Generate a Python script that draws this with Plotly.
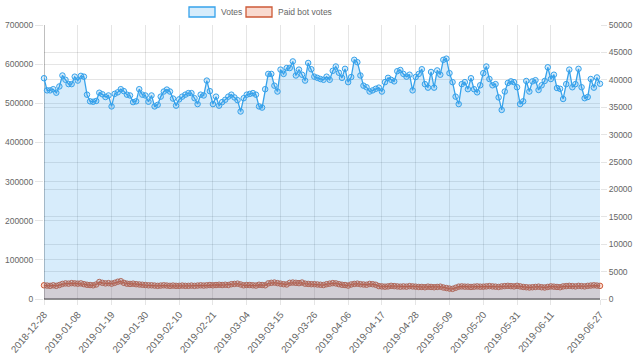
import plotly.graph_objects as go
from datetime import date, timedelta

start_date = date(2018, 12, 28)

votes = [
    564000, 533000, 533000, 536000, 527000, 543000, 571000, 560000, 549000, 549000,
    568000, 558000, 570000, 568000, 522000, 505000, 504000, 506000, 527000, 523000,
    516000, 520000, 492000, 524000, 528000, 536000, 531000, 522000, 520000, 503000,
    505000, 536000, 522000, 520000, 504000, 520000, 492000, 496000, 517000, 530000,
    535000, 530000, 512000, 494000, 510000, 517000, 522000, 526000, 526000, 513000,
    498000, 522000, 520000, 558000, 531000, 498000, 517000, 494000, 503000, 509000,
    517000, 522000, 515000, 508000, 479000, 513000, 522000, 524000, 526000, 522000,
    492000, 489000, 536000, 575000, 575000, 545000, 530000, 586000, 575000, 590000,
    590000, 607000, 571000, 586000, 573000, 558000, 603000, 587000, 568000, 565000,
    562000, 560000, 568000, 560000, 583000, 594000, 578000, 565000, 588000, 554000,
    567000, 611000, 605000, 571000, 545000, 541000, 530000, 533000, 537000, 540000,
    530000, 554000, 565000, 560000, 556000, 582000, 585000, 575000, 568000, 573000,
    533000, 567000, 575000, 587000, 549000, 540000, 580000, 540000, 584000, 573000,
    611000, 614000, 577000, 554000, 517000, 498000, 549000, 554000, 536000, 564000,
    536000, 528000, 546000, 577000, 594000, 562000, 546000, 549000, 515000, 483000,
    530000, 552000, 556000, 554000, 541000, 498000, 505000, 557000, 530000, 556000,
    559000, 534000, 546000, 557000, 592000, 562000, 573000, 539000, 537000, 511000,
    549000, 586000, 541000, 549000, 588000, 541000, 513000, 516000, 562000, 540000,
    566000, 550000,
]

paid_bot_votes = [
    2500, 2450, 2400, 2500, 2400, 2550,
    2750, 2850, 2800, 2900, 2850, 2800, 2850,
    2700, 2600, 2550, 2500, 2650, 3100,
    2950, 2850, 2900, 2800, 2950,
    3150, 3250,
    2950, 2800, 2750, 2800, 2700, 2650,
    2600, 2550, 2500, 2500, 2450, 2400, 2450, 2500, 2450, 2400, 2450, 2400, 2400,
    2450, 2400, 2400, 2450, 2400, 2450, 2500, 2450, 2500, 2550, 2500, 2550, 2600,
    2550, 2600, 2550,
    2700, 2750, 2800, 2650, 2500, 2550,
    2550, 2500, 2450, 2600, 2550, 2500,
    2850, 2950, 3000, 2900, 2800,
    2700, 2650,
    2950, 3000, 2950, 2900, 3000,
    2800, 2750, 2700, 2700, 2650,
    2600, 2550, 2700, 2800, 2900, 2850, 2700, 2600, 2550, 2450,
    2650, 2750, 2800, 2700, 2650, 2600, 2750, 2700, 2600,
    2350, 2300, 2250, 2300, 2400, 2350, 2300, 2250, 2300, 2250, 2350, 2300, 2250, 2200,
    2200, 2150, 2250, 2200, 2150, 2200, 2250, 2100, 2000, 1900, 1850, 2050,
    2250, 2300, 2250, 2250, 2200, 2250, 2300, 2250, 2250, 2300, 2350, 2300, 2250, 2200, 2300, 2350,
    2400, 2350, 2300, 2400, 2300,
    2200, 2150, 2100, 2150, 2200, 2250, 2150, 2100, 2200, 2300, 2250,
    2200, 2150, 2300, 2350, 2400, 2350, 2300, 2400, 2350, 2300, 2400, 2450, 2500, 2450, 2400,
]

series_names = ["Votes", "Paid bot votes"]

dates = [(start_date + timedelta(days=i)).isoformat() for i in range(len(votes))]

tick_labels = [
    "2018-12-28", "2019-01-08", "2019-01-19", "2019-01-30", "2019-02-10",
    "2019-02-21", "2019-03-04", "2019-03-15", "2019-03-26", "2019-04-06",
    "2019-04-17", "2019-04-28", "2019-05-09", "2019-05-20", "2019-05-31",
    "2019-06-11", "2019-06-27",
]
tick_positions = [dates.index(t) for t in tick_labels]
x = list(range(len(dates)))

BLUE = "rgb(54,162,235)"
BLUE_FILL = "rgba(54,162,235,0.2)"
RED = "rgb(205,90,55)"
RED_FILL = "rgba(225,70,20,0.2)"
GRID = "rgba(0,0,0,0.1)"
FONT = "Liberation Sans, Arial, sans-serif"

fig = go.Figure()

# Paid bot votes drawn first (underneath) on the right-hand scale
fig.add_trace(go.Scatter(
    x=x, y=paid_bot_votes, name=series_names[1], mode="lines+markers", yaxis="y",
    line=dict(color=RED, width=1.3), fill="tozeroy", fillcolor=RED_FILL,
    marker=dict(size=5.5, color=RED_FILL, line=dict(color=RED, width=1)),
    showlegend=False, cliponaxis=False, customdata=dates,
    hovertemplate="%{customdata}: %{y}<extra></extra>",
))
# Votes drawn on top on the left-hand scale
fig.add_trace(go.Scatter(
    x=x, y=votes, name=series_names[0], mode="lines+markers", yaxis="y2",
    line=dict(color=BLUE, width=1.3), fill="tozeroy", fillcolor=BLUE_FILL,
    marker=dict(size=5.5, color=BLUE_FILL, line=dict(color=BLUE, width=1)),
    showlegend=False, cliponaxis=False, customdata=dates,
    hovertemplate="%{customdata}: %{y}<extra></extra>",
))

# Chart.js-style legend (boxes + labels) above the plot
legend_items = [
    (series_names[0], BLUE_FILL, BLUE, 189, 215, 219),
    (series_names[1], RED_FILL, RED, 246, 272, 276),
]
L, W, T, H = 44, 556, 25, 274
def px(v):
    return (v - L) / W
def py(v):
    return (T + H - v) / H
for name, fc, lc, x0, x1, tx in legend_items:
    fig.add_shape(type="rect", xref="paper", yref="paper",
                  x0=px(x0), x1=px(x1), y0=py(17), y1=py(7),
                  fillcolor=fc, line=dict(color=lc, width=1.3))
    fig.add_annotation(xref="paper", yref="paper", x=px(tx), y=py(12),
                       text=name, showarrow=False, xanchor="left", yanchor="middle",
                       font=dict(family=FONT, size=8.5, color="#666"))

fig.update_layout(
    width=640, height=361,
    margin=dict(l=L, r=640 - L - W, t=T, b=361 - T - H, autoexpand=False),
    paper_bgcolor="white", plot_bgcolor="white",
    font=dict(family=FONT, size=8, color="#666"),
    showlegend=False,
    xaxis=dict(
        range=[0, len(x) - 1], tickmode="array", tickvals=tick_positions, ticktext=tick_labels,
        tickangle=-50, showgrid=True, gridcolor=GRID, gridwidth=1,
        zeroline=True, zerolinecolor="rgba(0,0,0,0.25)", zerolinewidth=1,
        ticks="outside", ticklen=5, tickcolor=GRID, showline=False, automargin=False,
        tickfont=dict(size=9.8, color="#666"),
    ),
    yaxis=dict(
        range=[0, 50000], dtick=5000, tickformat="d", side="right",
        showgrid=True, gridcolor=GRID, zeroline=True, zerolinecolor="rgba(0,0,0,0.25)",
        ticks="outside", ticklen=6, tickcolor=GRID, automargin=False,
        tickfont=dict(size=8.5, color="#666"),
    ),
    yaxis2=dict(
        range=[0, 700000], dtick=100000, tickformat="d", overlaying="y", side="left",
        showgrid=True, gridcolor=GRID, zeroline=True, zerolinecolor="rgba(0,0,0,0.25)",
        ticks="outside", ticklen=8, tickcolor=GRID, automargin=False,
        tickfont=dict(size=8.5, color="#666"),
    ),
    hovermode="closest",
)

fig.write_html("out.html", config={"displayModeBar": False},
               post_script="document.body.style.margin='0px';")
